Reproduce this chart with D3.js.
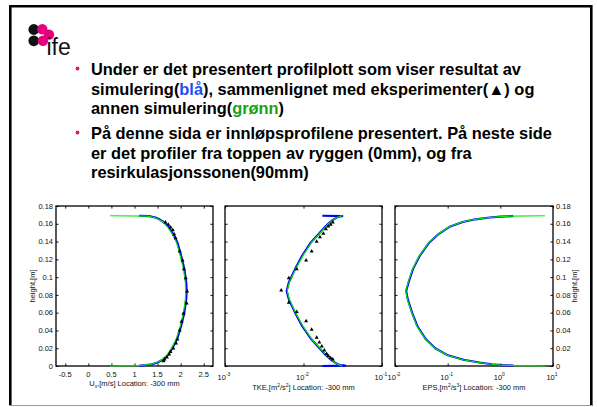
<!DOCTYPE html>
<html><head><meta charset="utf-8">
<script src="https://cdn.jsdelivr.net/npm/d3@7/dist/d3.min.js"></script>
<style>
body{margin:0;background:#fff}
svg{display:block}
text{font-family:"Liberation Sans",Arial,sans-serif}
</style>
</head><body>
<svg id="c" width="597" height="407"></svg>
<script>
// ---- simulation grid (height, m) ----
const simHeight = [0, 0.0004, 0.001, 0.002, 0.004, 0.007, 0.012, 0.02, 0.03, 0.045, 0.06, 0.075, 0.0845,
                   0.094, 0.109, 0.124, 0.139, 0.149, 0.157, 0.162, 0.165, 0.167, 0.168, 0.1686, 0.169];

// streamwise velocity U_x [m/s]
const uBlue  = [1.10, 1.12, 1.25, 1.38, 1.50, 1.61, 1.72, 1.82, 1.92, 2.01, 2.08, 2.12, 2.13,
                2.12, 2.08, 2.01, 1.93, 1.83, 1.73, 1.63, 1.54, 1.45, 1.38, 1.32, 1.10];
const uGreen = [0.47, 1.05, 1.22, 1.36, 1.48, 1.59, 1.70, 1.80, 1.90, 1.99, 2.06, 2.10, 2.11,
                2.10, 2.06, 1.99, 1.91, 1.81, 1.71, 1.62, 1.52, 1.43, 1.36, 1.30, 0.47];

// turbulent kinetic energy [m2/s2]
const kBlue  = [0.0174, 0.034, 0.0295, 0.0272, 0.0250, 0.0224, 0.0193, 0.0160, 0.0126, 0.0096, 0.0078, 0.0065, 0.0061,
                0.0065, 0.0078, 0.0096, 0.0124, 0.0158, 0.0190, 0.0218, 0.0243, 0.0266, 0.0284, 0.0312, 0.0174];
const kGreen = [0.031, 0.030, 0.029, 0.027, 0.025, 0.0225, 0.0195, 0.0162, 0.0128, 0.0098, 0.0079, 0.0066, 0.0062,
                0.0066, 0.0079, 0.0098, 0.0126, 0.0160, 0.0193, 0.0220, 0.0245, 0.0268, 0.0285, 0.0298, 0.031];

// dissipation rate [m2/s3]
const eBlue  = [1.8, 1.75, 1.02, 0.69, 0.40, 0.20, 0.101, 0.058, 0.0386, 0.0265, 0.0211, 0.0175, 0.0163,
                0.0181, 0.0219, 0.0295, 0.0448, 0.069, 0.112, 0.193, 0.335, 0.63, 1.02, 1.7, 1.76];
const eGreen = [7.0, 1.8, 1.0, 0.68, 0.39, 0.195, 0.099, 0.057, 0.038, 0.026, 0.0208, 0.0172, 0.016,
                0.0178, 0.0215, 0.029, 0.044, 0.068, 0.11, 0.19, 0.33, 0.62, 1.0, 1.6, 7.0];

// ---- experiments ----
const expHeightU = [0.1616, 0.159, 0.156, 0.153, 0.148, 0.144, 0.129, 0.119, 0.109, 0.099, 0.084, 0.0705,
                    0.059, 0.050, 0.040, 0.030, 0.0255, 0.020, 0.016, 0.013, 0.0098, 0.0075, 0.0056];
const expU       = [1.67, 1.73, 1.78, 1.83, 1.86, 1.89, 1.98, 2.04, 2.07, 2.11, 2.14, 2.13,
                    2.06, 2.02, 1.98, 1.93, 1.90, 1.84, 1.78, 1.75, 1.70, 1.65, 1.63];
const expHeightK = [0.1616, 0.159, 0.157, 0.154, 0.149, 0.145, 0.140, 0.129, 0.119, 0.109, 0.099, 0.085,
                    0.0714, 0.061, 0.0505, 0.041, 0.032, 0.0265, 0.022, 0.0175, 0.0138, 0.0113, 0.009, 0.0075];
const expK       = [0.0236, 0.0222, 0.0207, 0.0193, 0.0179, 0.0162, 0.0147, 0.0127, 0.0108, 0.0082, 0.0065, 0.0052,
                    0.0065, 0.0082, 0.0108, 0.0127, 0.0147, 0.0159, 0.0171, 0.0184, 0.0197, 0.0207, 0.0222, 0.0236];

// ---- axis ticks ----
const heightTicks = [0, 0.02, 0.04, 0.06, 0.08, 0.1, 0.12, 0.14, 0.16, 0.18];
const uTicks = [-0.5, 0, 0.5, 1, 1.5, 2, 2.5];
const kTicks = [1e-3, 1e-2, 1e-1];
const eTicks = [1e-2, 1e-1, 1e0, 1e1];

const svg = d3.select("#c");

// slide frame
svg.append("rect").attr("width", 597).attr("height", 407).attr("fill", "#fff");
svg.append("path").attr("d", "M10.3,406 V6.3 H591.3 V406").attr("fill", "none")
  .attr("stroke", "#000").attr("stroke-width", 2.6);
svg.append("line").attr("x1", 9).attr("x2", 592.6).attr("y1", 405.5).attr("y2", 405.5)
  .attr("stroke", "#9a9a9a").attr("stroke-width", 1);

// logo
const logo = svg.append("g");
logo.append("circle").attr("cx", 33.8).attr("cy", 29.5).attr("r", 5.4).attr("fill", "#111");
logo.append("circle").attr("cx", 33.8).attr("cy", 40.8).attr("r", 5.4).attr("fill", "#111");
logo.append("circle").attr("cx", 42.3).attr("cy", 29.3).attr("r", 5.2).attr("fill", "#e5007d");
logo.append("circle").attr("cx", 49.0).attr("cy", 34.6).attr("r", 5.2).attr("fill", "#e5007d");
logo.append("circle").attr("cx", 43.0).attr("cy", 40.7).attr("r", 5.2).attr("fill", "#e5007d");
logo.append("text").attr("x", 46.5).attr("y", 54.5).attr("font-family", "'DejaVu Serif',serif")
  .attr("font-size", 23).attr("fill", "#111").text("ife");

// bullet text
const bulletLines = [
  {y: 75,  bullet: true,  parts: [["Under er det presentert profilplott som viser resultat av", "#000"]]},
  {y: 94.5, bullet: false, parts: [["simulering(", "#000"], ["blå", "#1d4ff2"], ["), sammenlignet med eksperimenter(▲) og", "#000"]]},
  {y: 114, bullet: false, parts: [["annen simulering(", "#000"], ["grønn", "#19a019"], [")", "#000"]]},
  {y: 139, bullet: true,  parts: [["På denne sida er innløpsprofilene presentert. På neste side", "#000"]]},
  {y: 158.5, bullet: false, parts: [["er det profiler fra toppen av ryggen (0mm), og fra", "#000"]]},
  {y: 178, bullet: false, parts: [["resirkulasjonssonen(90mm)", "#000"]]}
];
bulletLines.forEach(l => {
  if (l.bullet) svg.append("circle").attr("cx", 77.5).attr("cy", l.y - 6.5).attr("r", 1.9).attr("fill", "#e8194f");
  const t = svg.append("text").attr("x", 91).attr("y", l.y).attr("font-size", 16.4).attr("font-weight", "bold");
  l.parts.forEach(p => t.append("tspan").attr("fill", p[1]).text(p[0]));
});

// ---- panels ----
const plotTop = 206, plotBottom = 366;
const y = d3.scaleLinear().domain([0, 0.18]).range([plotBottom, plotTop]);
const xU = d3.scaleLinear().domain([-0.7, 2.7]).range([56, 213]);
const xK = d3.scaleLog().domain([1e-3, 1e-1]).range([225, 382]);
const xE = d3.scaleLog().domain([1e-2, 1e1]).range([395, 553]);

const FS = 7.5, TK = 2.6;

function frame(x, xTicks) {
  const [x0, x1] = x.range();
  const g = svg.append("g");
  const strip = s => s.select(".domain").remove();
  g.append("g").attr("transform", `translate(0,${plotBottom})`)
    .call(d3.axisBottom(x).tickValues(xTicks).tickSize(-TK).tickFormat("")).call(strip);
  g.append("g").attr("transform", `translate(0,${plotTop})`)
    .call(d3.axisTop(x).tickValues(xTicks).tickSize(-TK).tickFormat("")).call(strip);
  g.append("g").attr("transform", `translate(${x0},0)`)
    .call(d3.axisLeft(y).tickValues(heightTicks).tickSize(-TK).tickFormat("")).call(strip);
  g.append("g").attr("transform", `translate(${x1},0)`)
    .call(d3.axisRight(y).tickValues(heightTicks).tickSize(-TK).tickFormat("")).call(strip);
  g.selectAll(".tick line").attr("stroke", "#000").attr("stroke-width", 0.9);
  g.append("rect").attr("x", x0).attr("y", plotTop).attr("width", x1 - x0).attr("height", plotBottom - plotTop)
    .attr("fill", "none").attr("stroke", "#000").attr("stroke-width", 1.3);
  return g;
}

function heightLabels(xPos, anchor) {
  heightTicks.forEach(v => {
    svg.append("text").attr("x", xPos).attr("y", y(v) + 2.7).attr("font-size", FS)
      .attr("text-anchor", anchor).attr("fill", "#111").text(d3.format("~g")(v));
  });
}

function logLabels(x, ticks) {
  ticks.forEach(v => {
    const e = Math.round(Math.log10(v));
    const t = svg.append("text").attr("x", x(v) - 1).attr("y", 380).attr("font-size", FS)
      .attr("text-anchor", "middle").attr("fill", "#111");
    t.append("tspan").text("10");
    t.append("tspan").attr("dy", -4).attr("font-size", 5).text(String(e));
  });
}

function curve(x, vals, color, w) {
  const pts = simHeight.map((h, i) => [vals[i], h]);
  svg.append("path").datum(pts)
    .attr("d", d3.line().x(d => x(d[0])).y(d => y(d[1])))
    .attr("fill", "none").attr("stroke", color).attr("stroke-width", w).attr("stroke-linejoin", "round");
}

function markers(x, vals, hs) {
  svg.append("g").selectAll("path").data(hs.map((h, i) => [vals[i], h])).join("path")
    .attr("transform", d => `translate(${x(d[0])},${y(d[1])})`)
    .attr("d", d3.symbol(d3.symbolTriangle, 7))
    .attr("fill", "#000");
}

// panel 1: velocity
frame(xU, uTicks);
heightLabels(53, "end");
uTicks.forEach(v => svg.append("text").attr("x", xU(v)).attr("y", 376.5).attr("font-size", FS)
  .attr("text-anchor", "middle").attr("fill", "#111").text(v));
curve(xU, uBlue, "#0000ff", 2.1);
curve(xU, uGreen, "#00ee00", 1.1);
markers(xU, expU, expHeightU);
{
  const t = svg.append("text").attr("x", (56 + 213) / 2).attr("y", 386).attr("font-size", FS)
    .attr("text-anchor", "middle").attr("fill", "#111");
  t.append("tspan").text("U");
  t.append("tspan").attr("dy", 2).attr("font-size", 5).text("x");
  t.append("tspan").attr("dy", -2).text(",[m/s] Location: -300 mm");
}
svg.append("text").attr("transform", `translate(34.5,286) rotate(-90)`).attr("font-size", FS)
  .attr("text-anchor", "middle").attr("fill", "#111").text("height,[m]");

// panel 2: TKE
frame(xK, kTicks);
logLabels(xK, kTicks);
curve(xK, kBlue, "#0000ff", 2.1);
curve(xK, kGreen, "#00ee00", 1.1);
markers(xK, expK, expHeightK);

// panel 3: dissipation
frame(xE, eTicks);
logLabels(xE, eTicks);
heightLabels(556, "start");
curve(xE, eBlue, "#0000ff", 2.1);
curve(xE, eGreen, "#00ee00", 1.1);
svg.append("text").attr("transform", `translate(577,286) rotate(-90)`).attr("font-size", FS)
  .attr("text-anchor", "middle").attr("fill", "#111").text("height,[m]");

function supLabel(cx, parts) {
  const t = svg.append("text").attr("x", cx).attr("y", 390).attr("font-size", FS)
    .attr("text-anchor", "middle").attr("fill", "#111");
  parts.forEach(p => {
    if (p[1]) {
      t.append("tspan").attr("dy", -3.5).attr("font-size", 5).text(p[0]);
    } else {
      t.append("tspan").attr("dy", p[2] || 0).text(p[0]);
    }
  });
}
supLabel((225 + 382) / 2, [["TKE,[m"], ["2", true], ["/s", false, 3.5], ["2", true], ["] Location: -300 mm", false, 3.5]]);
supLabel((395 + 553) / 2, [["EPS,[m"], ["2", true], ["/s", false, 3.5], ["3", true], ["] Location: -300 mm", false, 3.5]]);
</script>
</body></html>
